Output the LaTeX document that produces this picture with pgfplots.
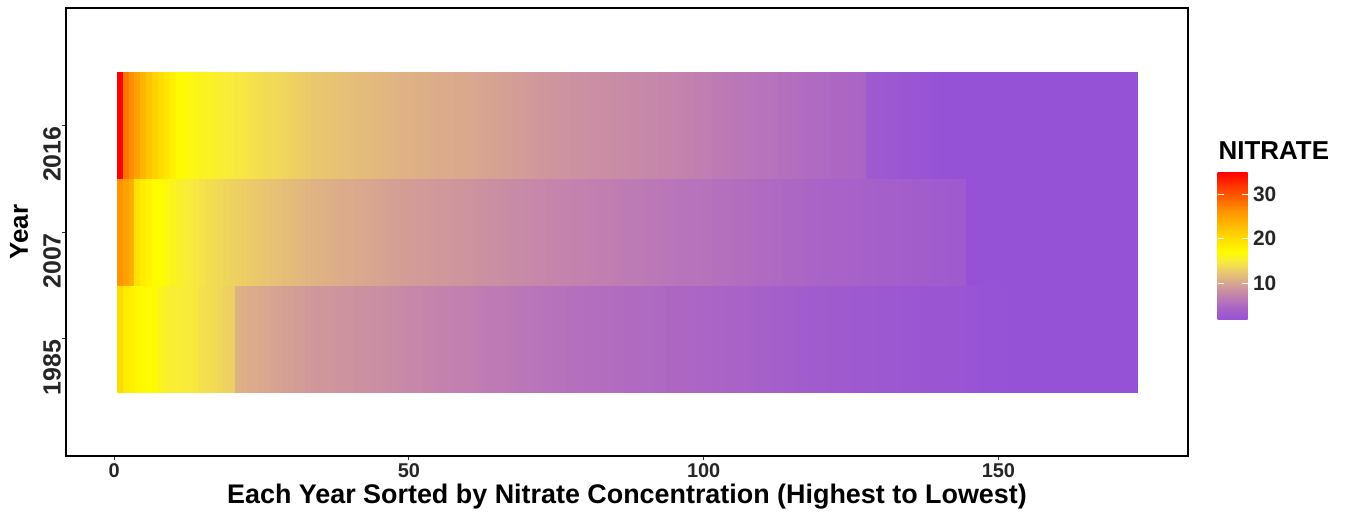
\documentclass[border=0pt]{standalone}
\usepackage{fontspec}
\setmainfont{Liberation Sans}
\usepackage{pgfplots}
\pgfplotsset{compat=1.18}
\pgfplotsset{colorbar/width=30bp}
\pgfplotsset{colormap={nitrate}{rgb255(17pt)=(150,82,214) rgb255(30pt)=(158,90,206) rgb255(45pt)=(170,100,198) rgb255(60pt)=(185,117,185) rgb255(75pt)=(196,132,172) rgb255(90pt)=(208,152,155) rgb255(105pt)=(220,172,138) rgb255(120pt)=(230,192,118) rgb255(135pt)=(240,215,90) rgb255(150pt)=(248,235,60) rgb255(170pt)=(255,252,0) rgb255(210pt)=(255,210,0) rgb255(260pt)=(255,150,0) rgb255(300pt)=(255,85,0) rgb255(350pt)=(255,0,0)}}
\begin{document}
\begin{tikzpicture}[x=1bp,y=1bp]
\path (0,0) rectangle (1348,519);
\begin{axis}[
  name=main,
  at={(66bp,63bp)}, anchor=south west,
  scale only axis, width=1122bp, height=448bp,
  xmin=-8.15, xmax=182.15, ymin=-0.1, ymax=4.1,
  xtick={0,50,100,150}, ytick={1,2,3}, yticklabels={1985,2007,2016},
  tick align=outside, major tick length=4bp,
  tick style={black!80, line width=0.8bp},
  axis line style={black, line width=1.2bp},
  tick pos=left,
  /pgf/number format/assume math mode=true,
  xticklabel style={font=\bfseries\fontsize{20}{20}\selectfont, text=black!85},
  yticklabel style={font=\bfseries\fontsize{25}{25}\selectfont, text=black!85, rotate=90, anchor=south east, inner sep=1bp},
  xlabel={Each Year Sorted by Nitrate Concentration (Highest to Lowest)},
  ylabel={Year},
  xlabel style={font=\bfseries\fontsize{27}{27}\selectfont, at={(axis description cs:0.5,-0.0915)}, anchor=center},
  ylabel style={font=\bfseries\fontsize{26}{26}\selectfont, at={(axis description cs:-0.0419,0.5)}, anchor=center},
  colormap name=nitrate,
  point meta min=1.7, point meta max=35,
  colorbar,
  colorbar style={
    at={(parent axis.north east)}, anchor=north west, xshift=21bp, yshift=-164bp,
    scale only axis, width=30bp, height=148bp,
    ytick={10,20,30},
    tick align=inside, major tick length=6bp,
    ytick style={white, line width=1bp},
    ytick pos=both, yticklabel pos=right,
    axis line style={draw=none},
    /pgf/number format/assume math mode=true,
    yticklabel style={font=\bfseries\fontsize{21}{21}\selectfont, text=black!85, xshift=2bp},
    title={NITRATE},
    title style={at={(0,1)}, anchor=base west, xshift=1bp, yshift=7bp, inner sep=0pt, font=\bfseries\fontsize{26}{26}\selectfont},
  },
]
% corner lattice: each patch takes the value written at its lower-left corner
\addplot[surf, shader=flat corner, mesh/cols=174, mesh/rows=4, point meta=explicit] coordinates {
(0.5,0.5)[20] (1.5,0.5)[18.5] (2.5,0.5)[18] (3.5,0.5)[17.5] (4.5,0.5)[17.2] (5.5,0.5)[17] (6.5,0.5)[16.8] (7.5,0.5)[16] (8.5,0.5)[15.5] (9.5,0.5)[15.3]
(10.5,0.5)[15.2] (11.5,0.5)[15.1] (12.5,0.5)[15.0] (13.5,0.5)[14.8] (14.5,0.5)[14.2] (15.5,0.5)[14.0] (16.5,0.5)[13.9] (17.5,0.5)[13.5] (18.5,0.5)[13.2] (19.5,0.5)[13.0]
(20.5,0.5)[10.8] (21.5,0.5)[10.7] (22.5,0.5)[10.5] (23.5,0.5)[10.4] (24.5,0.5)[10.2] (25.5,0.5)[10.1] (26.5,0.5)[9.9] (27.5,0.5)[9.8] (28.5,0.5)[9.6] (29.5,0.5)[9.5]
(30.5,0.5)[9.4] (31.5,0.5)[9.3] (32.5,0.5)[9.1] (33.5,0.5)[9.0] (34.5,0.5)[8.9] (35.5,0.5)[8.9] (36.5,0.5)[8.8] (37.5,0.5)[8.7] (38.5,0.5)[8.7] (39.5,0.5)[8.6]
(40.5,0.5)[8.5] (41.5,0.5)[8.5] (42.5,0.5)[8.4] (43.5,0.5)[8.3] (44.5,0.5)[8.3] (45.5,0.5)[8.2] (46.5,0.5)[8.1] (47.5,0.5)[8.0] (48.5,0.5)[7.9] (49.5,0.5)[7.8]
(50.5,0.5)[7.7] (51.5,0.5)[7.7] (52.5,0.5)[7.6] (53.5,0.5)[7.5] (54.5,0.5)[7.4] (55.5,0.5)[7.3] (56.5,0.5)[7.2] (57.5,0.5)[7.1] (58.5,0.5)[7.1] (59.5,0.5)[7.0]
(60.5,0.5)[6.9] (61.5,0.5)[6.8] (62.5,0.5)[6.7] (63.5,0.5)[6.6] (64.5,0.5)[6.5] (65.5,0.5)[6.5] (66.5,0.5)[6.4] (67.5,0.5)[6.3] (68.5,0.5)[6.2] (69.5,0.5)[6.1]
(70.5,0.5)[6.0] (71.5,0.5)[6.0] (72.5,0.5)[5.9] (73.5,0.5)[5.8] (74.5,0.5)[5.7] (75.5,0.5)[5.7] (76.5,0.5)[5.6] (77.5,0.5)[5.5] (78.5,0.5)[5.5] (79.5,0.5)[5.4]
(80.5,0.5)[5.4] (81.5,0.5)[5.4] (82.5,0.5)[5.3] (83.5,0.5)[5.3] (84.5,0.5)[5.2] (85.5,0.5)[5.2] (86.5,0.5)[5.1] (87.5,0.5)[5.1] (88.5,0.5)[5.0] (89.5,0.5)[5.0]
(90.5,0.5)[5.0] (91.5,0.5)[4.9] (92.5,0.5)[4.9] (93.5,0.5)[4.8] (94.5,0.5)[4.8] (95.5,0.5)[4.8] (96.5,0.5)[4.7] (97.5,0.5)[4.7] (98.5,0.5)[4.6] (99.5,0.5)[4.6]
(100.5,0.5)[4.6] (101.5,0.5)[4.5] (102.5,0.5)[4.5] (103.5,0.5)[4.4] (104.5,0.5)[4.3] (105.5,0.5)[4.3] (106.5,0.5)[4.2] (107.5,0.5)[4.1] (108.5,0.5)[4.0] (109.5,0.5)[4.0]
(110.5,0.5)[3.9] (111.5,0.5)[3.8] (112.5,0.5)[3.7] (113.5,0.5)[3.6] (114.5,0.5)[3.6] (115.5,0.5)[3.5] (116.5,0.5)[3.4] (117.5,0.5)[3.3] (118.5,0.5)[3.3] (119.5,0.5)[3.2]
(120.5,0.5)[3.2] (121.5,0.5)[3.1] (122.5,0.5)[3.1] (123.5,0.5)[3.0] (124.5,0.5)[3.0] (125.5,0.5)[2.9] (126.5,0.5)[2.9] (127.5,0.5)[2.8] (128.5,0.5)[2.8] (129.5,0.5)[2.7]
(130.5,0.5)[2.7] (131.5,0.5)[2.6] (132.5,0.5)[2.6] (133.5,0.5)[2.5] (134.5,0.5)[2.5] (135.5,0.5)[2.5] (136.5,0.5)[2.4] (137.5,0.5)[2.4] (138.5,0.5)[2.4] (139.5,0.5)[2.3]
(140.5,0.5)[2.3] (141.5,0.5)[2.3] (142.5,0.5)[2.2] (143.5,0.5)[2.2] (144.5,0.5)[2.1] (145.5,0.5)[2.0] (146.5,0.5)[1.9] (147.5,0.5)[1.9] (148.5,0.5)[1.8] (149.5,0.5)[1.8]
(150.5,0.5)[1.7] (151.5,0.5)[1.7] (152.5,0.5)[1.7] (153.5,0.5)[1.7] (154.5,0.5)[1.7] (155.5,0.5)[1.7] (156.5,0.5)[1.7] (157.5,0.5)[1.7] (158.5,0.5)[1.7] (159.5,0.5)[1.7]
(160.5,0.5)[1.7] (161.5,0.5)[1.7] (162.5,0.5)[1.7] (163.5,0.5)[1.7] (164.5,0.5)[1.7] (165.5,0.5)[1.7] (166.5,0.5)[1.7] (167.5,0.5)[1.7] (168.5,0.5)[1.7] (169.5,0.5)[1.7]
(170.5,0.5)[1.7] (171.5,0.5)[1.7] (172.5,0.5)[1.7] (173.5,0.5)[1.7]
(0.5,1.5)[26] (1.5,1.5)[25] (2.5,1.5)[24] (3.5,1.5)[19.5] (4.5,1.5)[18.5] (5.5,1.5)[17.8] (6.5,1.5)[17.2] (7.5,1.5)[17.0] (8.5,1.5)[16.5] (9.5,1.5)[16.0]
(10.5,1.5)[15.6] (11.5,1.5)[15.3] (12.5,1.5)[15.0] (13.5,1.5)[14.7] (14.5,1.5)[14.4] (15.5,1.5)[14.1] (16.5,1.5)[13.9] (17.5,1.5)[13.6] (18.5,1.5)[13.4] (19.5,1.5)[13.2]
(20.5,1.5)[13.0] (21.5,1.5)[12.9] (22.5,1.5)[12.7] (23.5,1.5)[12.6] (24.5,1.5)[12.4] (25.5,1.5)[12.3] (26.5,1.5)[12.1] (27.5,1.5)[12.0] (28.5,1.5)[11.8] (29.5,1.5)[11.7]
(30.5,1.5)[11.5] (31.5,1.5)[11.4] (32.5,1.5)[11.2] (33.5,1.5)[11.0] (34.5,1.5)[10.9] (35.5,1.5)[10.8] (36.5,1.5)[10.7] (37.5,1.5)[10.6] (38.5,1.5)[10.5] (39.5,1.5)[10.4]
(40.5,1.5)[10.3] (41.5,1.5)[10.2] (42.5,1.5)[10.1] (43.5,1.5)[10.0] (44.5,1.5)[9.9] (45.5,1.5)[9.8] (46.5,1.5)[9.6] (47.5,1.5)[9.5] (48.5,1.5)[9.4] (49.5,1.5)[9.4]
(50.5,1.5)[9.3] (51.5,1.5)[9.2] (52.5,1.5)[9.2] (53.5,1.5)[9.1] (54.5,1.5)[9.0] (55.5,1.5)[9.0] (56.5,1.5)[8.9] (57.5,1.5)[8.8] (58.5,1.5)[8.8] (59.5,1.5)[8.7]
(60.5,1.5)[8.6] (61.5,1.5)[8.5] (62.5,1.5)[8.4] (63.5,1.5)[8.3] (64.5,1.5)[8.3] (65.5,1.5)[8.2] (66.5,1.5)[8.1] (67.5,1.5)[8.0] (68.5,1.5)[8.0] (69.5,1.5)[7.9]
(70.5,1.5)[7.8] (71.5,1.5)[7.7] (72.5,1.5)[7.7] (73.5,1.5)[7.6] (74.5,1.5)[7.5] (75.5,1.5)[7.4] (76.5,1.5)[7.4] (77.5,1.5)[7.3] (78.5,1.5)[7.2] (79.5,1.5)[7.2]
(80.5,1.5)[7.1] (81.5,1.5)[7.0] (82.5,1.5)[6.9] (83.5,1.5)[6.9] (84.5,1.5)[6.8] (85.5,1.5)[6.7] (86.5,1.5)[6.6] (87.5,1.5)[6.6] (88.5,1.5)[6.5] (89.5,1.5)[6.4]
(90.5,1.5)[6.3] (91.5,1.5)[6.3] (92.5,1.5)[6.2] (93.5,1.5)[6.1] (94.5,1.5)[6.0] (95.5,1.5)[5.9] (96.5,1.5)[5.9] (97.5,1.5)[5.8] (98.5,1.5)[5.8] (99.5,1.5)[5.7]
(100.5,1.5)[5.7] (101.5,1.5)[5.6] (102.5,1.5)[5.5] (103.5,1.5)[5.5] (104.5,1.5)[5.4] (105.5,1.5)[5.3] (106.5,1.5)[5.3] (107.5,1.5)[5.2] (108.5,1.5)[5.1] (109.5,1.5)[5.1]
(110.5,1.5)[5.0] (111.5,1.5)[4.9] (112.5,1.5)[4.9] (113.5,1.5)[4.8] (114.5,1.5)[4.7] (115.5,1.5)[4.7] (116.5,1.5)[4.6] (117.5,1.5)[4.5] (118.5,1.5)[4.5] (119.5,1.5)[4.4]
(120.5,1.5)[4.3] (121.5,1.5)[4.3] (122.5,1.5)[4.2] (123.5,1.5)[4.2] (124.5,1.5)[4.1] (125.5,1.5)[4.1] (126.5,1.5)[4.0] (127.5,1.5)[3.9] (128.5,1.5)[3.9] (129.5,1.5)[3.8]
(130.5,1.5)[3.8] (131.5,1.5)[3.7] (132.5,1.5)[3.7] (133.5,1.5)[3.6] (134.5,1.5)[3.6] (135.5,1.5)[3.5] (136.5,1.5)[3.5] (137.5,1.5)[3.4] (138.5,1.5)[3.3] (139.5,1.5)[3.3]
(140.5,1.5)[3.2] (141.5,1.5)[3.1] (142.5,1.5)[3.1] (143.5,1.5)[3.0] (144.5,1.5)[1.7] (145.5,1.5)[1.7] (146.5,1.5)[1.7] (147.5,1.5)[1.7] (148.5,1.5)[1.7] (149.5,1.5)[1.7]
(150.5,1.5)[1.7] (151.5,1.5)[1.7] (152.5,1.5)[1.7] (153.5,1.5)[1.7] (154.5,1.5)[1.7] (155.5,1.5)[1.7] (156.5,1.5)[1.7] (157.5,1.5)[1.7] (158.5,1.5)[1.7] (159.5,1.5)[1.7]
(160.5,1.5)[1.7] (161.5,1.5)[1.7] (162.5,1.5)[1.7] (163.5,1.5)[1.7] (164.5,1.5)[1.7] (165.5,1.5)[1.7] (166.5,1.5)[1.7] (167.5,1.5)[1.7] (168.5,1.5)[1.7] (169.5,1.5)[1.7]
(170.5,1.5)[1.7] (171.5,1.5)[1.7] (172.5,1.5)[1.7] (173.5,1.5)[1.7]
(0.5,2.5)[35] (1.5,2.5)[28] (2.5,2.5)[26.5] (3.5,2.5)[25] (4.5,2.5)[23.5] (5.5,2.5)[22] (6.5,2.5)[21] (7.5,2.5)[20] (8.5,2.5)[19] (9.5,2.5)[18]
(10.5,2.5)[17.2] (11.5,2.5)[16.8] (12.5,2.5)[16.4] (13.5,2.5)[16.2] (14.5,2.5)[16.0] (15.5,2.5)[15.8] (16.5,2.5)[15.6] (17.5,2.5)[15.4] (18.5,2.5)[15.2] (19.5,2.5)[15.0]
(20.5,2.5)[14.8] (21.5,2.5)[14.6] (22.5,2.5)[14.4] (23.5,2.5)[14.2] (24.5,2.5)[14.0] (25.5,2.5)[13.8] (26.5,2.5)[13.7] (27.5,2.5)[13.5] (28.5,2.5)[13.4] (29.5,2.5)[13.2]
(30.5,2.5)[13.0] (31.5,2.5)[12.9] (32.5,2.5)[12.7] (33.5,2.5)[12.5] (34.5,2.5)[12.4] (35.5,2.5)[12.3] (36.5,2.5)[12.2] (37.5,2.5)[12.1] (38.5,2.5)[12.0] (39.5,2.5)[11.9]
(40.5,2.5)[11.8] (41.5,2.5)[11.7] (42.5,2.5)[11.6] (43.5,2.5)[11.5] (44.5,2.5)[11.4] (45.5,2.5)[11.3] (46.5,2.5)[11.2] (47.5,2.5)[11.0] (48.5,2.5)[10.9] (49.5,2.5)[10.9]
(50.5,2.5)[10.8] (51.5,2.5)[10.7] (52.5,2.5)[10.7] (53.5,2.5)[10.6] (54.5,2.5)[10.5] (55.5,2.5)[10.5] (56.5,2.5)[10.4] (57.5,2.5)[10.3] (58.5,2.5)[10.3] (59.5,2.5)[10.2]
(60.5,2.5)[10.1] (61.5,2.5)[10.0] (62.5,2.5)[9.9] (63.5,2.5)[9.8] (64.5,2.5)[9.7] (65.5,2.5)[9.6] (66.5,2.5)[9.5] (67.5,2.5)[9.4] (68.5,2.5)[9.3] (69.5,2.5)[9.2]
(70.5,2.5)[9.1] (71.5,2.5)[9.0] (72.5,2.5)[8.9] (73.5,2.5)[8.8] (74.5,2.5)[8.7] (75.5,2.5)[8.7] (76.5,2.5)[8.6] (77.5,2.5)[8.5] (78.5,2.5)[8.4] (79.5,2.5)[8.4]
(80.5,2.5)[8.3] (81.5,2.5)[8.3] (82.5,2.5)[8.2] (83.5,2.5)[8.2] (84.5,2.5)[8.1] (85.5,2.5)[8.0] (86.5,2.5)[8.0] (87.5,2.5)[7.9] (88.5,2.5)[7.9] (89.5,2.5)[7.8]
(90.5,2.5)[7.8] (91.5,2.5)[7.7] (92.5,2.5)[7.6] (93.5,2.5)[7.6] (94.5,2.5)[7.5] (95.5,2.5)[7.4] (96.5,2.5)[7.3] (97.5,2.5)[7.2] (98.5,2.5)[7.0] (99.5,2.5)[6.9]
(100.5,2.5)[6.8] (101.5,2.5)[6.6] (102.5,2.5)[6.5] (103.5,2.5)[6.4] (104.5,2.5)[6.3] (105.5,2.5)[6.2] (106.5,2.5)[6.1] (107.5,2.5)[6.0] (108.5,2.5)[5.9] (109.5,2.5)[5.8]
(110.5,2.5)[5.8] (111.5,2.5)[5.7] (112.5,2.5)[5.6] (113.5,2.5)[5.5] (114.5,2.5)[5.4] (115.5,2.5)[5.3] (116.5,2.5)[5.2] (117.5,2.5)[5.1] (118.5,2.5)[5.0] (119.5,2.5)[5.0]
(120.5,2.5)[4.9] (121.5,2.5)[4.8] (122.5,2.5)[4.8] (123.5,2.5)[4.7] (124.5,2.5)[4.6] (125.5,2.5)[4.6] (126.5,2.5)[4.5] (127.5,2.5)[3.0] (128.5,2.5)[2.9] (129.5,2.5)[2.8]
(130.5,2.5)[2.7] (131.5,2.5)[2.6] (132.5,2.5)[2.5] (133.5,2.5)[2.4] (134.5,2.5)[2.3] (135.5,2.5)[2.2] (136.5,2.5)[2.1] (137.5,2.5)[2.0] (138.5,2.5)[1.9] (139.5,2.5)[1.8]
(140.5,2.5)[1.7] (141.5,2.5)[1.7] (142.5,2.5)[1.7] (143.5,2.5)[1.7] (144.5,2.5)[1.7] (145.5,2.5)[1.7] (146.5,2.5)[1.7] (147.5,2.5)[1.7] (148.5,2.5)[1.7] (149.5,2.5)[1.7]
(150.5,2.5)[1.7] (151.5,2.5)[1.7] (152.5,2.5)[1.7] (153.5,2.5)[1.7] (154.5,2.5)[1.7] (155.5,2.5)[1.7] (156.5,2.5)[1.7] (157.5,2.5)[1.7] (158.5,2.5)[1.7] (159.5,2.5)[1.7]
(160.5,2.5)[1.7] (161.5,2.5)[1.7] (162.5,2.5)[1.7] (163.5,2.5)[1.7] (164.5,2.5)[1.7] (165.5,2.5)[1.7] (166.5,2.5)[1.7] (167.5,2.5)[1.7] (168.5,2.5)[1.7] (169.5,2.5)[1.7]
(170.5,2.5)[1.7] (171.5,2.5)[1.7] (172.5,2.5)[1.7] (173.5,2.5)[1.7]
(0.5,3.5)[1.7] (1.5,3.5)[1.7] (2.5,3.5)[1.7] (3.5,3.5)[1.7] (4.5,3.5)[1.7] (5.5,3.5)[1.7] (6.5,3.5)[1.7] (7.5,3.5)[1.7] (8.5,3.5)[1.7] (9.5,3.5)[1.7]
(10.5,3.5)[1.7] (11.5,3.5)[1.7] (12.5,3.5)[1.7] (13.5,3.5)[1.7] (14.5,3.5)[1.7] (15.5,3.5)[1.7] (16.5,3.5)[1.7] (17.5,3.5)[1.7] (18.5,3.5)[1.7] (19.5,3.5)[1.7]
(20.5,3.5)[1.7] (21.5,3.5)[1.7] (22.5,3.5)[1.7] (23.5,3.5)[1.7] (24.5,3.5)[1.7] (25.5,3.5)[1.7] (26.5,3.5)[1.7] (27.5,3.5)[1.7] (28.5,3.5)[1.7] (29.5,3.5)[1.7]
(30.5,3.5)[1.7] (31.5,3.5)[1.7] (32.5,3.5)[1.7] (33.5,3.5)[1.7] (34.5,3.5)[1.7] (35.5,3.5)[1.7] (36.5,3.5)[1.7] (37.5,3.5)[1.7] (38.5,3.5)[1.7] (39.5,3.5)[1.7]
(40.5,3.5)[1.7] (41.5,3.5)[1.7] (42.5,3.5)[1.7] (43.5,3.5)[1.7] (44.5,3.5)[1.7] (45.5,3.5)[1.7] (46.5,3.5)[1.7] (47.5,3.5)[1.7] (48.5,3.5)[1.7] (49.5,3.5)[1.7]
(50.5,3.5)[1.7] (51.5,3.5)[1.7] (52.5,3.5)[1.7] (53.5,3.5)[1.7] (54.5,3.5)[1.7] (55.5,3.5)[1.7] (56.5,3.5)[1.7] (57.5,3.5)[1.7] (58.5,3.5)[1.7] (59.5,3.5)[1.7]
(60.5,3.5)[1.7] (61.5,3.5)[1.7] (62.5,3.5)[1.7] (63.5,3.5)[1.7] (64.5,3.5)[1.7] (65.5,3.5)[1.7] (66.5,3.5)[1.7] (67.5,3.5)[1.7] (68.5,3.5)[1.7] (69.5,3.5)[1.7]
(70.5,3.5)[1.7] (71.5,3.5)[1.7] (72.5,3.5)[1.7] (73.5,3.5)[1.7] (74.5,3.5)[1.7] (75.5,3.5)[1.7] (76.5,3.5)[1.7] (77.5,3.5)[1.7] (78.5,3.5)[1.7] (79.5,3.5)[1.7]
(80.5,3.5)[1.7] (81.5,3.5)[1.7] (82.5,3.5)[1.7] (83.5,3.5)[1.7] (84.5,3.5)[1.7] (85.5,3.5)[1.7] (86.5,3.5)[1.7] (87.5,3.5)[1.7] (88.5,3.5)[1.7] (89.5,3.5)[1.7]
(90.5,3.5)[1.7] (91.5,3.5)[1.7] (92.5,3.5)[1.7] (93.5,3.5)[1.7] (94.5,3.5)[1.7] (95.5,3.5)[1.7] (96.5,3.5)[1.7] (97.5,3.5)[1.7] (98.5,3.5)[1.7] (99.5,3.5)[1.7]
(100.5,3.5)[1.7] (101.5,3.5)[1.7] (102.5,3.5)[1.7] (103.5,3.5)[1.7] (104.5,3.5)[1.7] (105.5,3.5)[1.7] (106.5,3.5)[1.7] (107.5,3.5)[1.7] (108.5,3.5)[1.7] (109.5,3.5)[1.7]
(110.5,3.5)[1.7] (111.5,3.5)[1.7] (112.5,3.5)[1.7] (113.5,3.5)[1.7] (114.5,3.5)[1.7] (115.5,3.5)[1.7] (116.5,3.5)[1.7] (117.5,3.5)[1.7] (118.5,3.5)[1.7] (119.5,3.5)[1.7]
(120.5,3.5)[1.7] (121.5,3.5)[1.7] (122.5,3.5)[1.7] (123.5,3.5)[1.7] (124.5,3.5)[1.7] (125.5,3.5)[1.7] (126.5,3.5)[1.7] (127.5,3.5)[1.7] (128.5,3.5)[1.7] (129.5,3.5)[1.7]
(130.5,3.5)[1.7] (131.5,3.5)[1.7] (132.5,3.5)[1.7] (133.5,3.5)[1.7] (134.5,3.5)[1.7] (135.5,3.5)[1.7] (136.5,3.5)[1.7] (137.5,3.5)[1.7] (138.5,3.5)[1.7] (139.5,3.5)[1.7]
(140.5,3.5)[1.7] (141.5,3.5)[1.7] (142.5,3.5)[1.7] (143.5,3.5)[1.7] (144.5,3.5)[1.7] (145.5,3.5)[1.7] (146.5,3.5)[1.7] (147.5,3.5)[1.7] (148.5,3.5)[1.7] (149.5,3.5)[1.7]
(150.5,3.5)[1.7] (151.5,3.5)[1.7] (152.5,3.5)[1.7] (153.5,3.5)[1.7] (154.5,3.5)[1.7] (155.5,3.5)[1.7] (156.5,3.5)[1.7] (157.5,3.5)[1.7] (158.5,3.5)[1.7] (159.5,3.5)[1.7]
(160.5,3.5)[1.7] (161.5,3.5)[1.7] (162.5,3.5)[1.7] (163.5,3.5)[1.7] (164.5,3.5)[1.7] (165.5,3.5)[1.7] (166.5,3.5)[1.7] (167.5,3.5)[1.7] (168.5,3.5)[1.7] (169.5,3.5)[1.7]
(170.5,3.5)[1.7] (171.5,3.5)[1.7] (172.5,3.5)[1.7] (173.5,3.5)[1.7]
};
\end{axis}
\end{tikzpicture}
\end{document}
